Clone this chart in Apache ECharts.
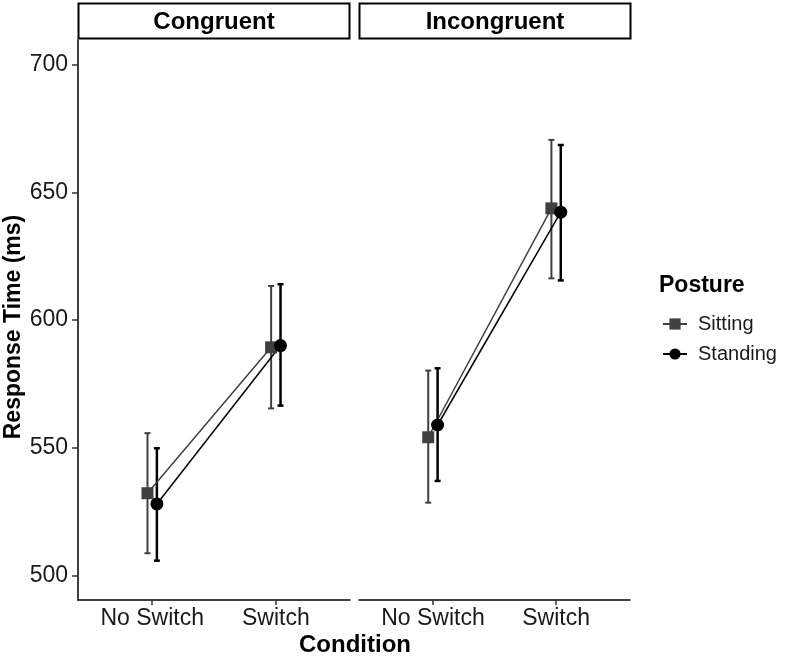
<!DOCTYPE html>
<html><head><meta charset="utf-8">
<script src="https://cdn.jsdelivr.net/npm/echarts@6/dist/echarts.min.js"></script>
<style>html,body{margin:0;padding:0;background:#fff}#c{width:789px;height:657px}</style>
</head><body><div id="c"></div>
<script>
const categories = ['No Switch', 'Switch'];
const panels = ['Congruent', 'Incongruent'];
const postures = ['Sitting', 'Standing'];
const yTicks = [500, 550, 600, 650, 700];

const sitCongMean = [532.2, 589.3];
const sitCongLow = [508.7, 565.4];
const sitCongHigh = [555.7, 613.3];
const standCongMean = [528.0, 590.0];
const standCongLow = [505.8, 566.5];
const standCongHigh = [549.8, 614.0];

const sitIncMean = [554.1, 643.7];
const sitIncLow = [528.5, 616.3];
const sitIncHigh = [580.2, 670.5];
const standIncMean = [558.9, 642.2];
const standIncLow = [537.0, 615.5];
const standIncHigh = [581.1, 668.5];

const FONT = '"Liberation Sans", Arial, Helvetica, sans-serif';
const DODGE = 0.038;
const colSit = '#404040', colStand = '#000000';

function pts(mean, off) { return mean.map((v, i) => [i + 1 + off, v]); }
function bars(low, high, off) { return low.map((v, i) => [i + 1 + off, v, high[i]]); }

function errSeries(name, idx, low, high, off, color, w) {
  return {
    type: 'custom', name: name + '_err', xAxisIndex: idx, yAxisIndex: idx, z: 2,
    data: bars(low, high, off), silent: true,
    renderItem: function (params, api) {
      const x = api.value(0);
      const a = api.coord([x, api.value(1)]);
      const b = api.coord([x, api.value(2)]);
      const hw = 3;
      const st = { stroke: color, lineWidth: w };
      return { type: 'group', children: [
        { type: 'line', shape: { x1: a[0], y1: a[1], x2: b[0], y2: b[1] }, style: st },
        { type: 'line', shape: { x1: a[0] - hw, y1: a[1], x2: a[0] + hw, y2: a[1] }, style: st },
        { type: 'line', shape: { x1: b[0] - hw, y1: b[1], x2: b[0] + hw, y2: b[1] }, style: st }
      ]};
    }
  };
}
function lineSeries(name, idx, mean, off, color, symbol, size, lw) {
  return {
    type: 'line', name: name, xAxisIndex: idx, yAxisIndex: idx, z: 3,
    data: pts(mean, off), symbol: symbol, symbolSize: size, showSymbol: true,
    lineStyle: { color: color, width: lw }, itemStyle: { color: color, borderWidth: 0 },
    emphasis: { disabled: true }, silent: true
  };
}

const grids = [
  { left: 78, right: 439, top: 40, bottom: 57 },
  { left: 359, right: 159, top: 40, bottom: 57 }
];
function xAx(i) {
  return {
    type: 'value', gridIndex: i, min: 0.4, max: 2.6,
    axisLine: { show: true, lineStyle: { color: '#000', width: 1.5 } },
    axisTick: { show: true, customValues: [1, 2], length: 5, lineStyle: { color: '#333', width: 1.5 } },
    axisLabel: { show: true, customValues: [1, 2], formatter: v => categories[Math.round(v) - 1] || '',
      fontFamily: FONT, fontSize: 23, color: '#1a1a1a', margin: 7 },
    splitLine: { show: false }
  };
}
function yAx(i) {
  return {
    type: 'value', gridIndex: i, min: 490.4, max: 709.6, show: i === 0,
    axisLine: { show: true, lineStyle: { color: '#000', width: 1.5 } },
    axisTick: { show: true, customValues: yTicks, length: 6, lineStyle: { color: '#333', width: 1.5 } },
    axisLabel: { show: true, customValues: yTicks, fontFamily: FONT, fontSize: 23, color: '#1a1a1a', margin: 10 },
    splitLine: { show: false }
  };
}

const option = {
  animation: false,
  backgroundColor: '#fff',
  grid: grids,
  xAxis: [xAx(0), xAx(1)],
  yAxis: [yAx(0), yAx(1)],
  legend: {
    data: postures, orient: 'vertical', left: 657, top: 309, itemGap: 10,
    itemWidth: 24, itemHeight: 14,
    textStyle: { fontFamily: FONT, fontSize: 20, color: '#1a1a1a', padding: [0, 0, 0, 6] },
    selectedMode: false
  },
  series: [
    errSeries('Sitting', 0, sitCongLow, sitCongHigh, -DODGE, colSit, 2),
    errSeries('Standing', 0, standCongLow, standCongHigh, DODGE, colStand, 2.5),
    errSeries('Sitting', 1, sitIncLow, sitIncHigh, -DODGE, colSit, 2),
    errSeries('Standing', 1, standIncLow, standIncHigh, DODGE, colStand, 2.5),
    lineSeries('Sitting', 0, sitCongMean, -DODGE, colSit, 'rect', 12, 1.5),
    lineSeries('Standing', 0, standCongMean, DODGE, colStand, 'circle', 13, 1.5),
    lineSeries('Sitting', 1, sitIncMean, -DODGE, colSit, 'rect', 12, 1.5),
    lineSeries('Standing', 1, standIncMean, DODGE, colStand, 'circle', 13, 1.5)
  ],
  graphic: [
    { type: 'rect', shape: { x: 78.5, y: 3.5, width: 271, height: 35 }, style: { fill: '#fff', stroke: '#000', lineWidth: 2 } },
    { type: 'rect', shape: { x: 359.5, y: 3.5, width: 271, height: 35 }, style: { fill: '#fff', stroke: '#000', lineWidth: 2 } },
    { type: 'text', x: 214, y: 22, style: { text: panels[0], fontFamily: FONT, fontWeight: 'bold', fontSize: 24, fill: '#000', align: 'center', verticalAlign: 'middle' } },
    { type: 'text', x: 495, y: 22, style: { text: panels[1], fontFamily: FONT, fontWeight: 'bold', fontSize: 24, fill: '#000', align: 'center', verticalAlign: 'middle' } },
    { type: 'text', x: 355, y: 645, style: { text: 'Condition', fontFamily: FONT, fontWeight: 'bold', fontSize: 24, fill: '#000', align: 'center', verticalAlign: 'middle' } },
    { type: 'text', x: 14, y: 327, rotation: Math.PI / 2, style: { text: 'Response Time (ms)', fontFamily: FONT, fontWeight: 'bold', fontSize: 23, fill: '#000', align: 'center', verticalAlign: 'middle' } },
    { type: 'text', x: 659, y: 286, style: { text: 'Posture', fontFamily: FONT, fontWeight: 'bold', fontSize: 23, fill: '#000', align: 'left', verticalAlign: 'middle' } }
  ]
};
echarts.init(document.getElementById('c'), null, { renderer: 'canvas' }).setOption(option);
</script>
</body></html>
